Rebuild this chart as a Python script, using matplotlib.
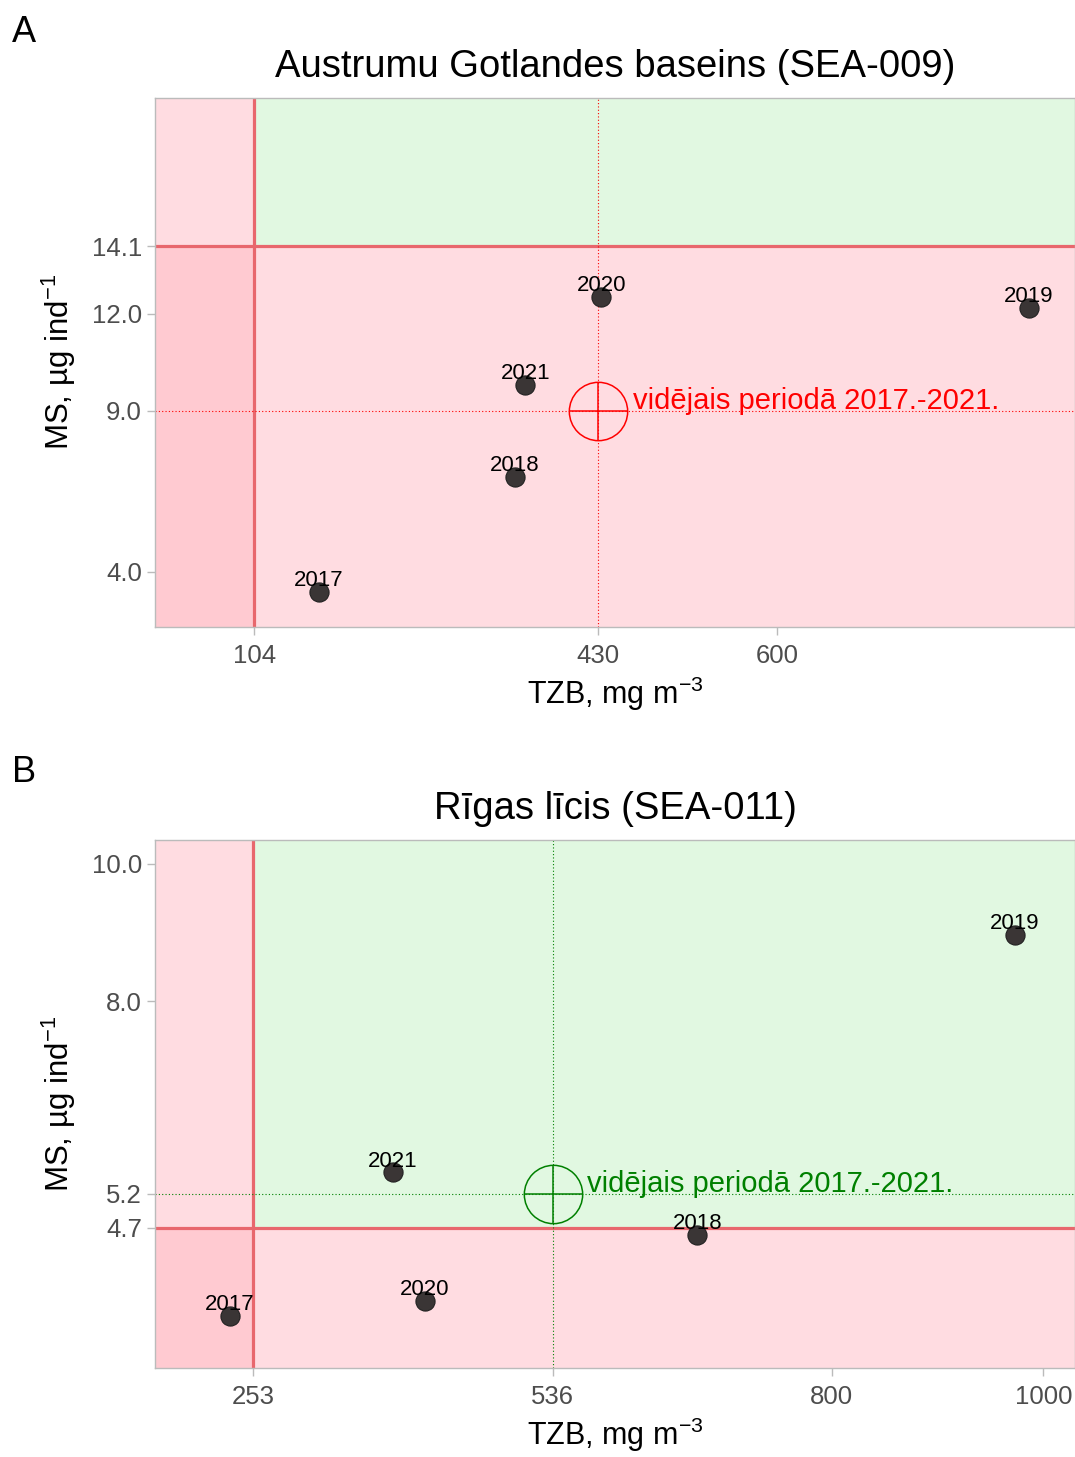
import numpy as np
import matplotlib.pyplot as plt

plt.rcParams['font.family'] = ['Liberation Sans', 'DejaVu Sans']
plt.rcParams['mathtext.fontset'] = 'custom'
plt.rcParams['mathtext.rm'] = 'Liberation Sans'
plt.rcParams['mathtext.it'] = 'Liberation Sans:italic'

# panel A - Austrumu Gotlandes baseins
yearsA = ["2017", "2018", "2019", "2020", "2021"]
tzbA = [165, 351, 838, 433, 361]
msA = [3.38, 6.95, 12.19, 12.53, 9.81]
thrA = [104, 14.1]
meanA = [430, 9.0]
xticksA = [104, 430, 600]
yticksA = [4.0, 9.0, 12.0, 14.1]

# panel B - Rigas licis
yearsB = ["2017", "2018", "2019", "2020", "2021"]
tzbB = [231, 673, 973, 415, 385]
msB = [3.42, 4.60, 8.97, 3.64, 5.51]
thrB = [253, 4.7]
meanB = [536, 5.2]
xticksB = [253, 536, 800, 1000]
yticksB = [4.7, 5.2, 8.0, 10.0]

pink = '#ffb6c1'
green = '#e1f8e1'
redline = '#e8676d'


def panel(ax, xs, ys, years, thr, mean, xticks, yticks, xlim, ylim, title, col):
    ax.set_xlim(xlim)
    ax.set_ylim(ylim)
    # background zones
    ax.axvspan(xlim[0], thr[0], color=pink, alpha=0.47, lw=0, zorder=0)
    ax.axhspan(ylim[0], thr[1], color=pink, alpha=0.47, lw=0, zorder=0)
    ax.fill_between([thr[0], xlim[1]], thr[1], ylim[1], color=green, lw=0, zorder=0)
    ax.axvline(thr[0], color=redline, lw=2.3, zorder=1)
    ax.axhline(thr[1], color=redline, lw=2.3, zorder=1)
    # mean
    ax.axvline(mean[0], color=col, lw=0.8, ls=(0, (1, 2)), zorder=1)
    ax.axhline(mean[1], color=col, lw=0.8, ls=(0, (1, 2)), zorder=1)
    ax.plot(mean[0], mean[1], 'o', ms=42, mfc='none', mec=col, mew=1.1, zorder=3)
    ax.plot(mean[0], mean[1], '+', ms=42, mec=col, mew=1.1, zorder=3)
    ax.annotate("vidējais periodā 2017.-2021.", (mean[0], mean[1]), xytext=(25, 1),
                textcoords='offset points', color=col, fontsize=21, va='baseline', ha='left')
    # yearly points
    ax.scatter(xs, ys, s=190, color='#3a3535', edgecolor='#222222', lw=0.8, zorder=4)
    for x, y, t in zip(xs, ys, years):
        ax.annotate(t, (x, y), xytext=(0, 4), textcoords='offset points',
                    ha='center', va='baseline', fontsize=16, color='black', zorder=5)
    ax.set_xticks(xticks)
    ax.set_xticklabels([str(v) for v in xticks])
    ax.set_yticks(yticks)
    ax.set_yticklabels(["%.1f" % v for v in yticks])
    ax.tick_params(colors='#bbbbbb', labelcolor='#4d4d4d', labelsize=18.5, length=6, width=1)
    ax.tick_params(axis='x', pad=6)
    for s in ax.spines.values():
        s.set_color('#bbbbbb')
        s.set_linewidth(1)
    ax.set_xlabel("TZB, mg m$^{-3}$", fontsize=22, labelpad=5)
    ax.set_ylabel("MS, µg ind$^{-1}$", fontsize=22.5, labelpad=10)
    ax.set_title(title, fontsize=27.5, pad=15)


fig = plt.figure(figsize=(10.75, 14.57), dpi=100)
axA = fig.add_axes([0.1442, 0.5697, 0.8558, 0.3631])
axB = fig.add_axes([0.1442, 0.0611, 0.8558, 0.3624])

panel(axA, tzbA, msA, yearsA, thrA, meanA, xticksA, yticksA, (10, 882), (2.29, 18.7),
      "Austrumu Gotlandes baseins (SEA-009)", 'red')
panel(axB, tzbB, msB, yearsB, thrB, meanB, xticksB, yticksB, (160, 1030), (2.66, 10.35),
      "Rīgas līcis (SEA-011)", 'green')

fig.text(0.011, 0.99, "A", fontsize=26, va='top')
fig.text(0.011, 0.482, "B", fontsize=26, va='top')

plt.savefig("out.png", dpi=100)
plt.close()
